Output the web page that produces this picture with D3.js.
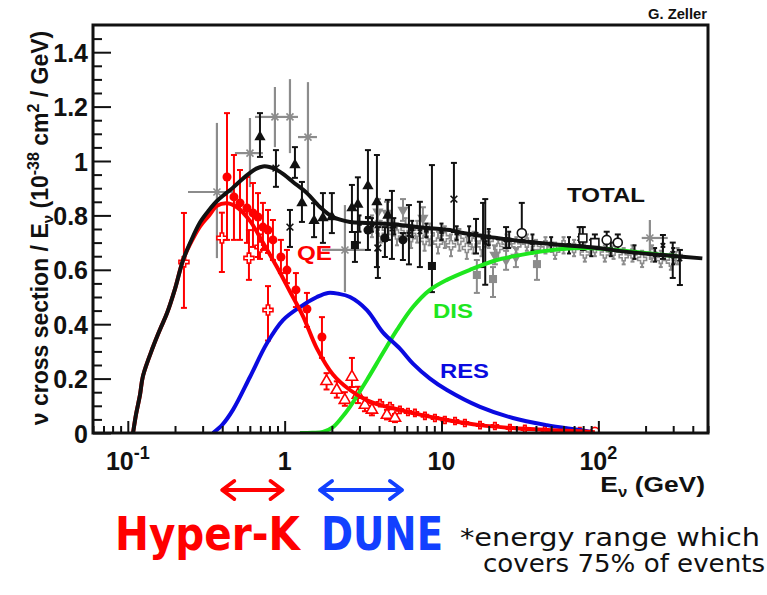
<!DOCTYPE html>
<html><head><meta charset="utf-8">
<script src="https://cdn.jsdelivr.net/npm/d3@7"></script>
<style>
html,body{margin:0;padding:0;background:#fff;}
svg{display:block;}
</style></head><body>
<svg id="chart" width="767" height="595"></svg>
<script>
// ---- model curves: [E (GeV), sigma/E (1e-38 cm^2/GeV)] ----
const totalCurve = [[0.108,0],[0.113,0.07],[0.1196,0.14],[0.125,0.21],[0.1447,0.316],[0.16,0.379],[0.1777,0.44],[0.2,0.53],[0.2248,0.635],[0.25,0.70],[0.289,0.775],[0.33,0.82],[0.37,0.853],[0.42,0.88],[0.468,0.902],[0.53,0.93],[0.601,0.956],[0.66,0.972],[0.727,0.98],[0.8,0.978],[0.893,0.967],[1.0,0.948],[1.13,0.923],[1.387,0.882],[1.679,0.831],[2.032,0.794],[2.608,0.776],[3.346,0.772],[5.43,0.765],[6.97,0.757],[11.3,0.746],[13.7,0.735],[22.5,0.717],[36.6,0.702],[59.4,0.691],[97.8,0.68],[159,0.665],[258,0.654],[460,0.642]];
const qeCurve = [[0.108,0],[0.113,0.07],[0.1196,0.14],[0.125,0.21],[0.1447,0.316],[0.16,0.379],[0.1777,0.44],[0.2,0.53],[0.2248,0.635],[0.25,0.695],[0.289,0.76],[0.33,0.80],[0.37,0.835],[0.429,0.845],[0.497,0.83],[0.601,0.78],[0.727,0.70],[0.893,0.61],[1.081,0.52],[1.308,0.43],[1.607,0.31],[2.032,0.215],[2.608,0.158],[3.346,0.12],[4.23,0.10],[5.43,0.085],[6.573,0.073],[10.83,0.048],[17.6,0.029],[28.5,0.018],[47.0,0.011],[76.2,0.006],[95.0,0.003]];
const resCurve = [[0.349,0],[0.40,0.03],[0.468,0.085],[0.601,0.206],[0.771,0.33],[0.976,0.415],[1.252,0.463],[1.607,0.50],[1.888,0.515],[2.2,0.512],[2.608,0.50],[3.346,0.452],[4.23,0.37],[5.43,0.31],[6.573,0.255],[8.44,0.20],[10.83,0.158],[17.6,0.096],[28.5,0.055],[47.0,0.029],[76.2,0.011],[92.2,0.003]];
const disCurve = [[1.252,0],[1.5,0.001],[1.754,0.004],[2.032,0.022],[2.3,0.055],[2.608,0.096],[3.346,0.195],[4.23,0.294],[5.2,0.379],[6.573,0.463],[8.44,0.526],[10.83,0.563],[15.2,0.60],[22.5,0.636],[31.6,0.654],[47.0,0.67],[76.2,0.68],[124,0.674],[258,0.655],[320,0.65]];

// ---- measurements: [E, sigma/E, lower, upper] (+ [Elow, Ehigh]) ----
const qeCircles = [[0.429,0.941,0.71,1.176],[0.475,0.868,0.71,1.022],[0.519,0.846,0.71,0.967],[0.575,0.827,0.699,0.941],[0.628,0.809,0.684,0.919],[0.676,0.794,0.647,0.882],[0.727,0.757,0.673,0.846],[0.783,0.746,0.662,0.82],[0.842,0.71,0.636,0.783],[0.947,0.647,0.588,0.71],[1.034,0.599,0.551,0.673],[1.18,0.526,0.463,0.588],[1.387,0.456,0.39,0.515],[1.729,0.353,0.276,0.426]];
const qeCrosses = [[0.228,0.629,0.46,0.809],[0.398,0.717,0.592,0.81],[0.592,0.643,0.563,0.746],[0.696,0.684,0.64,0.73],[0.783,0.452,0.34,0.54]];
const qeTriangles = [[1.85,0.19,0.16,0.22],[2.15,0.158,0.13,0.19],[2.42,0.121,0.10,0.15],[2.685,0.206,0.169,0.276],[2.93,0.14,0.11,0.17],[3.25,0.103,0.08,0.13],[3.6,0.085,0.065,0.11],[4.49,0.066,0.05,0.085],[5.05,0.055,0.04,0.07]];
const qeTail = [[4.05,0.11,0.1,0.12],[4.69,0.099,0.089,0.109],[5.43,0.085,0.075,0.095],[6.11,0.077,0.067,0.087],[6.77,0.074,0.064,0.084],[7.84,0.063,0.053,0.073],[9.08,0.055,0.045,0.065],[10.5,0.048,0.038,0.058],[12.2,0.044,0.034,0.054],[14.1,0.037,0.027,0.047],[17.6,0.029,0.019,0.039],[21.9,0.026,0.016,0.036],[27.3,0.018,0.008,0.028],[34.0,0.015,0.005,0.025],[45.6,0.011,0.003,0.019],[61.2,0.007,0.002,0.012],[76.2,0.007,0.002,0.012]];
const qeEnd = [[95,0.004,0.004,0.004]];

const totTriangles = [[0.696,1.088,1.015,1.176],[1.163,0.985,0.938,1.051],[1.289,0.846,0.776,0.923],[1.54,0.78,0.72,0.845],[1.754,0.79,0.699,0.882],[2.0,0.794,0.735,0.882],[2.685,0.827,0.739,0.912],[2.93,0.84,0.70,0.94],[3.396,0.908,0.794,1.04],[3.875,0.849,0.61,1.022],[4.55,0.80,0.71,0.857]];
const totCircles = [[3.396,0.746,0.673,0.79],[4.357,0.717,0.647,0.757],[5.675,0.71,0.636,0.735]];
const totSquares = [[2.806,0.691,0.629,0.739],[8.69,0.614,0.518,0.985]];
const totStars = [[1.081,0.757,0.684,0.82],[0.88,0.974,0.905,1.04],[3.93,0.68,0.57,0.757],[12.0,0.86,0.739,0.993]];
const totBars = [[4.83,0.75,0.64,0.89],[6.2,0.73,0.62,0.838],[7.28,0.74,0.61,0.85],[16.6,0.73,0.66,0.787],[18.4,0.72,0.61,0.846],[19.0,0.70,0.545,0.86],[25.8,0.71,0.68,0.757],[76.0,0.715,0.69,0.757],[258,0.69,0.64,0.728],[298,0.66,0.57,0.70],[331,0.64,0.544,0.673]];
const totOpenCircles = [[32.5,0.735,0.71,0.846],[113,0.71,0.68,0.74],[133,0.70,0.67,0.73]];
const totOpenSquares = [[79.6,0.717,0.673,0.757],[95,0.70,0.68,0.73]];
const totBand = [[3.0,0.77,0.74,0.80],[3.6,0.765,0.74,0.79],[5.0,0.76,0.73,0.79],[6.5,0.75,0.72,0.78],[8.0,0.745,0.72,0.77],[10,0.74,0.71,0.77],[12.5,0.735,0.71,0.76],[15,0.73,0.70,0.76],[20,0.72,0.69,0.75],[27,0.71,0.68,0.74],[38,0.70,0.67,0.73],[50,0.695,0.67,0.72],[65,0.69,0.66,0.72],[90,0.68,0.65,0.71],[120,0.675,0.65,0.70],[170,0.665,0.64,0.69],[230,0.655,0.63,0.68],[300,0.65,0.62,0.68]];

const greyStars = [[0.37,0.886,0.643,1.14,0.242,0.468],[0.601,1.029,0.904,1.158,0.482,0.727],[0.867,1.162,1.051,1.272,0.647,0.976],[1.081,1.162,1.029,1.301,0.976,1.216],[1.408,1.088,0.886,1.29,1.216,1.607],[2.423,0.673,0.518,0.838,1.73,3.25],[213,0.717,0.636,0.783,189,277]];
const greyTriangles = [[3.93,0.813,0.78,0.86],[4.49,0.809,0.77,0.85],[5.68,0.82,0.78,0.86],[7.61,0.79,0.75,0.83],[21.9,0.654,0.62,0.69],[25.8,0.636,0.60,0.67],[29.8,0.647,0.61,0.68]];
const greySquares = [[16.8,0.581,0.515,0.636],[21.3,0.566,0.50,0.61],[40.6,0.621,0.563,0.673]];
const greyCrosses = [[3.6,0.76,0.72,0.80],[4.1,0.74,0.70,0.78],[4.6,0.77,0.73,0.81],[5.2,0.73,0.69,0.77],[5.9,0.75,0.71,0.79],[6.4,0.72,0.68,0.76],[7.0,0.74,0.70,0.78],[7.8,0.71,0.67,0.75],[8.4,0.73,0.69,0.77],[9.5,0.70,0.66,0.74],[10.5,0.72,0.68,0.76],[11.5,0.69,0.65,0.73],[13,0.71,0.67,0.75],[14.5,0.68,0.64,0.72],[16,0.70,0.66,0.74],[18,0.69,0.65,0.73],[20,0.71,0.68,0.74],[23,0.68,0.64,0.71],[26,0.70,0.67,0.73],[30,0.69,0.66,0.72],[35,0.70,0.67,0.73],[40,0.68,0.65,0.71],[46,0.69,0.66,0.72],[53,0.67,0.64,0.70],[60,0.69,0.66,0.72],[70,0.68,0.65,0.71],[82,0.66,0.63,0.70],[95,0.68,0.65,0.71],[110,0.66,0.63,0.69],[125,0.67,0.64,0.70],[145,0.65,0.62,0.68],[165,0.66,0.63,0.69],[190,0.64,0.61,0.67],[220,0.66,0.63,0.69],[250,0.64,0.61,0.67],[290,0.63,0.60,0.66],[320,0.65,0.62,0.68]];

// ---- axes ----
const yMajor = [0, 0.2, 0.4, 0.6, 0.8, 1.0, 1.2, 1.4];
const yTickLabels = ["0", "0.2", "0.4", "0.6", "0.8", "1", "1.2", "1.4"];
const xMajor = [0.1, 1, 10, 100];
const xTickLabels = [["10", "-1"], ["1", ""], ["10", ""], ["10", "2"]];

// energy ranges covering 75% of events
const hyperKRange = [0.4, 0.97];
const duneRange = [1.68, 5.6];

const W = 767, H = 595;
const frame = {left: 93, right: 708, top: 25, bottom: 433};
const x = d3.scaleLog().domain([0.06, 500]).range([frame.left, frame.right]);
const y = d3.scaleLinear().domain([0, 1.5]).range([frame.bottom, frame.top]);

const HELV = "'Liberation Sans', Arial, Helvetica, sans-serif";
const svg = d3.select("#chart").style("font-family", HELV);
svg.append("rect").attr("width", W).attr("height", H).attr("fill", "#fff");

svg.append("clipPath").attr("id", "plotclip").append("rect")
  .attr("x", frame.left).attr("y", frame.top)
  .attr("width", frame.right - frame.left).attr("height", frame.bottom - frame.top);

const BLACK = "#111", GREY = "#8c8c8c", RED = "#ff0000", BLUE = "#0a0ae0", GREEN = "#1ee61e";

// marker shapes
function markerPath(type, s) {
  const L = s / 2;
  if (type === "circle") return d3.symbol(d3.symbolCircle, Math.PI * L * L)();
  if (type === "triangle") return d3.symbol(d3.symbolTriangle, s * s * 0.55)();
  if (type === "square") return d3.symbol(d3.symbolSquare, s * s * 0.8)();
  if (type === "cross") {
    const a = s * 0.17;
    return `M${-a},${-L}L${a},${-L}L${a},${-a}L${L},${-a}L${L},${a}L${a},${a}L${a},${L}L${-a},${L}L${-a},${a}L${-L},${a}L${-L},${-a}L${-a},${-a}Z`;
  }
  if (type === "star") {
    const k = L * 0.7;
    return `M${-L},0L${L},0M0,${-L}L0,${L}M${-k},${-k}L${k},${k}M${-k},${k}L${k},${-k}`;
  }
  if (type === "x") {
    const k = L * 0.75;
    return `M${-k},${-k}L${k},${k}M${-k},${k}L${k},${-k}`;
  }
  return "";
}

const plot = svg.append("g").attr("clip-path", "url(#plotclip)");

function drawSet(data, o) {
  const g = plot.append("g");
  const cap = o.cap == null ? 3 : o.cap;
  data.forEach(d => {
    const px = x(d[0]), py = y(d[1]);
    const lo = y(d[2]), hi = y(d[3]);
    if (Math.abs(lo - hi) > 0.5) {
      g.append("line").attr("x1", px).attr("x2", px).attr("y1", lo).attr("y2", hi)
        .attr("stroke", o.color).attr("stroke-width", o.lw || 2);
      if (cap > 0) {
        [lo, hi].forEach(v => g.append("line").attr("x1", px - cap).attr("x2", px + cap)
          .attr("y1", v).attr("y2", v).attr("stroke", o.color).attr("stroke-width", 2));
      }
    }
    if (d.length > 5) {
      g.append("line").attr("x1", x(d[4])).attr("x2", x(d[5])).attr("y1", py).attr("y2", py)
        .attr("stroke", o.color).attr("stroke-width", o.lw || 2);
    }
    const p = g.append("path").attr("d", markerPath(o.marker, o.size))
      .attr("transform", `translate(${px},${py})${o.flip ? " rotate(180)" : ""}`);
    if (o.marker === "star" || o.marker === "x") {
      p.attr("fill", "none").attr("stroke", o.color).attr("stroke-width", 1.6);
    } else if (o.open) {
      p.attr("fill", "#fff").attr("stroke", o.color).attr("stroke-width", 1.6);
    } else {
      p.attr("fill", o.color);
    }
  });
}

// grey data
drawSet(greyCrosses, {color: GREY, marker: "cross", size: 9, open: true, cap: 2});
drawSet(greySquares, {color: GREY, marker: "square", size: 9});
drawSet(greyTriangles, {color: GREY, marker: "triangle", size: 10, flip: true});
drawSet(greyStars, {color: GREY, marker: "star", size: 10, cap: 0, lw: 2.2});
// black data
drawSet(totBand, {color: BLACK, marker: "square", size: 5, cap: 2});
drawSet(totBars, {color: BLACK, marker: "x", size: 6});
drawSet(totOpenCircles, {color: BLACK, marker: "circle", size: 9, open: true});
drawSet(totOpenSquares, {color: BLACK, marker: "square", size: 9, open: true});
drawSet(totSquares, {color: BLACK, marker: "square", size: 9});
drawSet(totCircles, {color: BLACK, marker: "circle", size: 9});
drawSet(totStars, {color: BLACK, marker: "x", size: 9});
drawSet(totTriangles, {color: BLACK, marker: "triangle", size: 10});
// red data
drawSet(qeTail, {color: RED, marker: "cross", size: 7, open: true, cap: 2});
drawSet(qeTriangles, {color: RED, marker: "triangle", size: 10, open: true});
drawSet(qeCrosses, {color: RED, marker: "cross", size: 10, open: true});
drawSet(qeCircles, {color: RED, marker: "circle", size: 9});
drawSet(qeEnd, {color: RED, marker: "circle", size: 9, open: true});

// model curves
const line = d3.line().x(d => x(d[0])).y(d => y(d[1])).curve(d3.curveCatmullRom.alpha(0.5));
[[disCurve, GREEN], [resCurve, BLUE], [qeCurve, RED], [totalCurve, BLACK]].forEach(([c, col]) => {
  plot.append("path").attr("d", line(c)).attr("fill", "none")
    .attr("stroke", col).attr("stroke-width", 4).attr("stroke-linejoin", "round");
});

// y axis
const yMinor = d3.range(0.05, 1.5, 0.05).filter(v => Math.abs(v * 5 - Math.round(v * 5)) > 1e-6);
const yAx = svg.append("g").attr("transform", `translate(${frame.left},0)`)
  .call(d3.axisLeft(y).tickValues(yMajor).tickSize(-18).tickPadding(5)
    .tickFormat((d, i) => yTickLabels[i]));
yAx.append("g").call(d3.axisLeft(y).tickValues(yMinor).tickSize(-9).tickFormat(""));
yAx.selectAll(".domain").remove();
yAx.selectAll("line").attr("stroke", BLACK).attr("stroke-width", 2);
yAx.selectAll("text").attr("font-size", 25).attr("font-weight", "bold").attr("fill", BLACK)
  .style("font-family", HELV).attr("dy", "0.36em");
yAx.attr("font-family", null);

// x axis
const xMinor = x.ticks().filter(v => Math.abs(Math.log10(v) - Math.round(Math.log10(v))) > 1e-6);
const xAx = svg.append("g").attr("transform", `translate(0,${frame.bottom})`);
xAx.call(d3.axisBottom(x).tickValues(xMajor).tickSize(-12).tickFormat(""));
xAx.append("g").call(d3.axisBottom(x).tickValues(xMinor).tickSize(-7).tickFormat(""));
xAx.selectAll(".domain").remove();
xAx.selectAll("line").attr("stroke", BLACK).attr("stroke-width", 2);

xMajor.forEach((v, i) => {
  const t = svg.append("text").attr("x", x(v)).attr("y", 470).attr("text-anchor", "middle")
    .attr("font-size", 25).attr("font-weight", "bold").attr("fill", BLACK);
  t.append("tspan").text(xTickLabels[i][0]);
  if (xTickLabels[i][1]) t.append("tspan").attr("dy", -11).attr("font-size", 18).text(xTickLabels[i][1]);
});

// frame
svg.append("rect").attr("x", frame.left).attr("y", frame.top)
  .attr("width", frame.right - frame.left).attr("height", frame.bottom - frame.top)
  .attr("fill", "none").attr("stroke", BLACK).attr("stroke-width", 3);

// axis titles
const yt = svg.append("text").attr("transform", "translate(48,228) rotate(-90)")
  .attr("text-anchor", "middle").attr("font-size", 23).attr("font-weight", "bold").attr("fill", BLACK);
yt.append("tspan").text("\u03bd cross section / E");
yt.append("tspan").attr("dy", 5).attr("font-size", 15).text("\u03bd");
yt.append("tspan").attr("dy", -5).text(" (10");
yt.append("tspan").attr("dy", -9).attr("font-size", 16).text("-38");
yt.append("tspan").attr("dy", 9).text(" cm");
yt.append("tspan").attr("dy", -9).attr("font-size", 16).text("2");
yt.append("tspan").attr("dy", 9).text(" / GeV)");

const xt = svg.append("text").attr("transform", "translate(705,492) scale(1.2,1)")
  .attr("text-anchor", "end").attr("font-size", 22).attr("font-weight", "bold").attr("fill", BLACK);
xt.append("tspan").text("E");
xt.append("tspan").attr("dy", 5).attr("font-size", 14).text("\u03bd");
xt.append("tspan").attr("dy", -5).text(" (GeV)");

svg.append("text").attr("x", 707).attr("y", 19).attr("text-anchor", "end")
  .attr("font-size", 14).attr("font-weight", "bold").attr("fill", BLACK)
  .attr("textLength", 59).attr("lengthAdjust", "spacingAndGlyphs").text("G. Zeller");

// curve labels
const labels = [
  {t: "TOTAL", x: 567, y: 202, w: 78, c: BLACK},
  {t: "QE", x: 297, y: 260, w: 35, c: RED},
  {t: "DIS", x: 433, y: 318, w: 40, c: GREEN},
  {t: "RES", x: 440, y: 378, w: 49, c: BLUE}
];
labels.forEach(l => svg.append("text").attr("x", l.x).attr("y", l.y)
  .attr("font-size", 21).attr("font-weight", "bold").attr("fill", l.c)
  .attr("textLength", l.w).attr("lengthAdjust", "spacingAndGlyphs").text(l.t));

// energy-range arrows
function dblArrow(range, color) {
  const x1 = x(range[0]), x2 = x(range[1]), yy = 490, hl = 12, hh = 9;
  const g = svg.append("g").attr("stroke", color).attr("stroke-width", 4)
    .attr("fill", "none").attr("stroke-linecap", "round").attr("stroke-linejoin", "round");
  g.append("line").attr("x1", x1 + 1).attr("x2", x2 - 1).attr("y1", yy).attr("y2", yy);
  g.append("path").attr("d", `M${x1 + hl},${yy - hh}L${x1},${yy}L${x1 + hl},${yy + hh}`);
  g.append("path").attr("d", `M${x2 - hl},${yy - hh}L${x2},${yy}L${x2 - hl},${yy + hh}`);
}
const HK_RED = "#ff0000", DUNE_BLUE = "#1240ff";
dblArrow(hyperKRange, HK_RED);
dblArrow(duneRange, DUNE_BLUE);

const SLIDE = "'DejaVu Sans Condensed', 'DejaVu Sans', sans-serif";
const big = [{t: "Hyper-K", x: 115, w: 185, c: HK_RED}, {t: "DUNE", x: 321, w: 122, c: DUNE_BLUE}];
big.forEach(b => svg.append("text").attr("x", b.x).attr("y", 550)
  .style("font-family", SLIDE)
  .attr("font-size", 47).attr("font-weight", "bold").attr("fill", b.c)
  .attr("textLength", b.w).attr("lengthAdjust", "spacingAndGlyphs").text(b.t));

const note = [{t: "*energy range which", x: 460, y: 546, w: 300}, {t: "covers 75% of events", x: 483, y: 572, w: 282}];
note.forEach(n => svg.append("text").attr("x", n.x).attr("y", n.y)
  .style("font-family", "'DejaVu Sans', sans-serif").attr("font-size", 24).attr("fill", "#111")
  .attr("textLength", n.w).attr("lengthAdjust", "spacingAndGlyphs").text(n.t));
</script></body></html>
